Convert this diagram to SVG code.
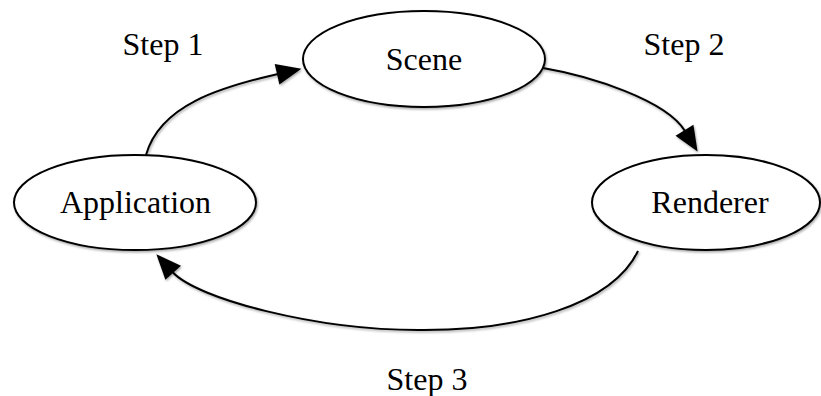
<svg xmlns="http://www.w3.org/2000/svg" width="821" height="396" viewBox="0 0 821 396">
<style>
.node ellipse{fill:#fff;stroke:#000;stroke-width:2;filter:url(#sh)}
.lbl{font-family:"Liberation Serif","Times New Roman",serif;font-size:32px;fill:#000;text-anchor:middle}
.edge{fill:none;stroke:#000;stroke-width:2;marker-end:url(#arr)}
</style>
<defs>
<filter id="sh" filterUnits="userSpaceOnUse" x="0" y="0" width="821" height="396">
<feDropShadow dx="1" dy="1.5" stdDeviation="1.2" flood-color="#000" flood-opacity="0.35"/>
</filter>
<marker id="arr" markerUnits="userSpaceOnUse" markerWidth="26" markerHeight="22" refX="1" refY="10.5" orient="auto" overflow="visible">
<path d="M0,0 L25,10.5 L0,21 z" fill="#000"/>
</marker>
</defs>
<rect width="821" height="396" fill="#fff"/>
<g id="connectors" filter="url(#sh)">
<path class="edge" d="M146,155 C160,105 221,87 278,74"/>
<path class="edge" d="M543,68 C590,76 666,100 685,131"/>
<path class="edge" d="M638,251 C612,305 520,331 418,330 C316,330 197,299 172.5,272"/>
</g>
<g id="scene" class="node">
<ellipse cx="424" cy="59" rx="121" ry="48"/>
<text class="lbl" x="424" y="70">Scene</text>
</g>
<g id="application" class="node">
<ellipse cx="135" cy="202.5" rx="121" ry="47.5"/>
<text class="lbl" x="135.5" y="213">Application</text>
</g>
<g id="renderer" class="node">
<ellipse cx="706" cy="202.5" rx="114" ry="47.5"/>
<text class="lbl" x="710" y="213">Renderer</text>
</g>
<g id="labels">
<text class="lbl" x="163" y="55">Step 1</text>
<text class="lbl" x="684" y="55">Step 2</text>
<text class="lbl" x="427" y="390">Step 3</text>
</g>
</svg>
